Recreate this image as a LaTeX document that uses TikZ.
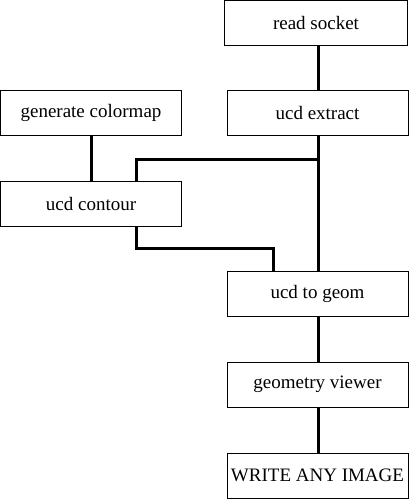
\documentclass[tikz,border=0pt]{standalone}
\usepackage{fontspec}
\setmainfont{Liberation Serif}
\usetikzlibrary{positioning, calc}

\begin{document}
\begin{tikzpicture}[
    x=1pt, y=-1pt,
    module/.style={draw, line width=1pt, minimum width=181pt, minimum height=45pt, inner sep=0pt, font=\fontsize{19}{22}\selectfont},
    wire/.style={line width=3pt}
]
    \useasboundingbox (0,0) rectangle (409,499);

    % Modules
    \node[module, minimum width=183pt] (socket) at (316, 22.5) {read socket};
    \node[module] (colormap) at (91, 113) {generate colormap};
    \node[module] (extract) at (317.5, 113) {ucd extract};
    \node[module] (contour) at (91, 204) {ucd contour};
    \node[module] (togeom) at (317.5, 294) {ucd to geom};
    \node[module] (viewer) at (317.5, 384.5) {geometry viewer};
    \node[module] (writeimg) at (317.5, 475.5) {WRITE ANY IMAGE};

    % Junction
    \coordinate (split) at (318, 159);

    % Connections
    \draw[wire] (socket.south -| split) -- (extract.north -| split);
    \draw[wire] (extract.south -| split) -- (togeom.north -| split);
    \draw[wire] (split) -| ([xshift=45pt]contour.north);
    \draw[wire] (colormap) -- (contour);
    \draw[wire] ([xshift=45pt]contour.south) -- ++(0,21) -| ([xshift=-44.5pt]togeom.north);
    \draw[wire] (togeom.south -| split) -- (viewer.north -| split);
    \draw[wire] (viewer.south -| split) -- (writeimg.north -| split);

\end{tikzpicture}
\end{document}
